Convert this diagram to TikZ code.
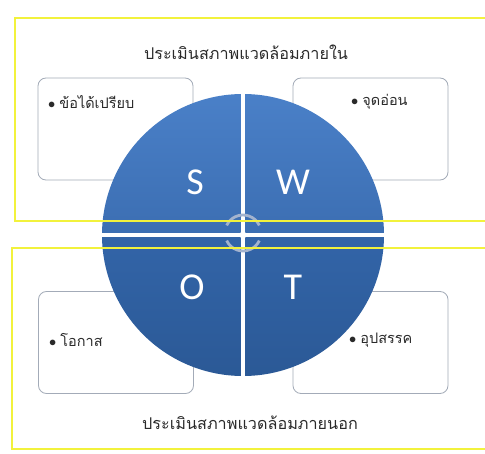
\documentclass[tikz,border=0pt]{standalone}
\usepackage{fontspec}
\newfontfamily\thai[Script=Thai]{Loma}
\newfontfamily\letterfont{Carlito}
\definecolor{yellowline}{HTML}{F2F23C}
\definecolor{boxgray}{HTML}{A3ABB8}
\definecolor{bluetop}{HTML}{4A80C8}
\definecolor{bluemid}{HTML}{2D5C9C}
\definecolor{bluebot}{HTML}{3A70BA}
\definecolor{bluerim}{HTML}{2B5996}
\definecolor{arcgray}{HTML}{A3B3CE}
\definecolor{textgray}{HTML}{2A2A2A}
\begin{document}
\begin{tikzpicture}[x=1pt,y=1pt,
  frame/.style={draw=yellowline, line width=2pt},
  box/.style={draw=boxgray, line width=0.8pt, rounded corners=8pt, fill=white,
    minimum width=155pt, minimum height=102pt, inner sep=0pt},
  title/.style={font=\thai\fontsize{16.2}{18}\selectfont, text=textgray, inner sep=0pt},
  item/.style={font=\thai\fontsize{14.5}{16}\selectfont, text=textgray, inner sep=0pt, anchor=west},
  letter/.style={font=\letterfont\fontsize{38}{40}\selectfont, text=white, inner sep=0pt},
  cyc/.style={draw=arcgray, line width=2.8pt}]
\useasboundingbox (0,0) rectangle (485,453);
\fill[white] (0,0) rectangle (485,453);

% inner boxes
\node[box] (bS) at (115.5,324) {};
\node[box] (bW) at (370.5,324) {};
\node[box] (bO) at (116,110.5) {};
\node[box] (bT) at (370.5,110.5) {};

% box texts
\node[item] (tS) at (48,351) {$\bullet$\hspace{4pt}ข้อได้เปรียบ};
\node[item] (tW) at (351,351) {$\bullet$\hspace{4pt}จุดอ่อน};
\node[item] (tO) at (49,113) {$\bullet$\hspace{4pt}โอกาส};
\node[item] (tT) at (349,113) {$\bullet$\hspace{4pt}อุปสรรค};

% circle quadrants
\def\cx{243}\def\cy{218}\def\r{141}\def\g{2.3}
\begin{scope}
  \clip (\cx-\g-200,\cy+\g) rectangle (\cx-\g,\cy+200);
  \shade[top color=bluetop, bottom color=bluemid] (\cx,\cy) circle (\r);
\end{scope}
\begin{scope}
  \clip (\cx+\g,\cy+\g) rectangle (\cx+\g+200,\cy+200);
  \shade[top color=bluetop, bottom color=bluemid] (\cx,\cy) circle (\r);
\end{scope}
\begin{scope}
  \clip (\cx-\g-200,\cy-\g) rectangle (\cx-\g,\cy-200);
  \shade[top color=bluebot, bottom color=bluerim] (\cx,\cy) circle (\r);
\end{scope}
\begin{scope}
  \clip (\cx+\g,\cy-\g) rectangle (\cx+\g+200,\cy-200);
  \shade[top color=bluebot, bottom color=bluerim] (\cx,\cy) circle (\r);
\end{scope}

% letters
\node[letter] (S) at (195,271) {S};
\node[letter] (W) at (293,271) {W};
\node[letter] (O) at (192,166) {O};
\node[letter] (T) at (293,166) {T};

% center cycle arcs
\coordinate (c) at (243,220);
\draw[cyc] ([shift={(25:18)}]c) arc (25:155:18);
\draw[cyc] ([shift={(205:18)}]c) arc (205:335:18);

% yellow frames
\draw[frame] (15,435) rectangle (488,232);
\draw[frame] (12,205) rectangle (488,4);

% titles
\node[title] (inner) at (246,401) {ประเมินสภาพแวดล้อมภายใน};
\node[title] (outer) at (250,30) {ประเมินสภาพแวดล้อมภายนอก};
\end{tikzpicture}
\end{document}
